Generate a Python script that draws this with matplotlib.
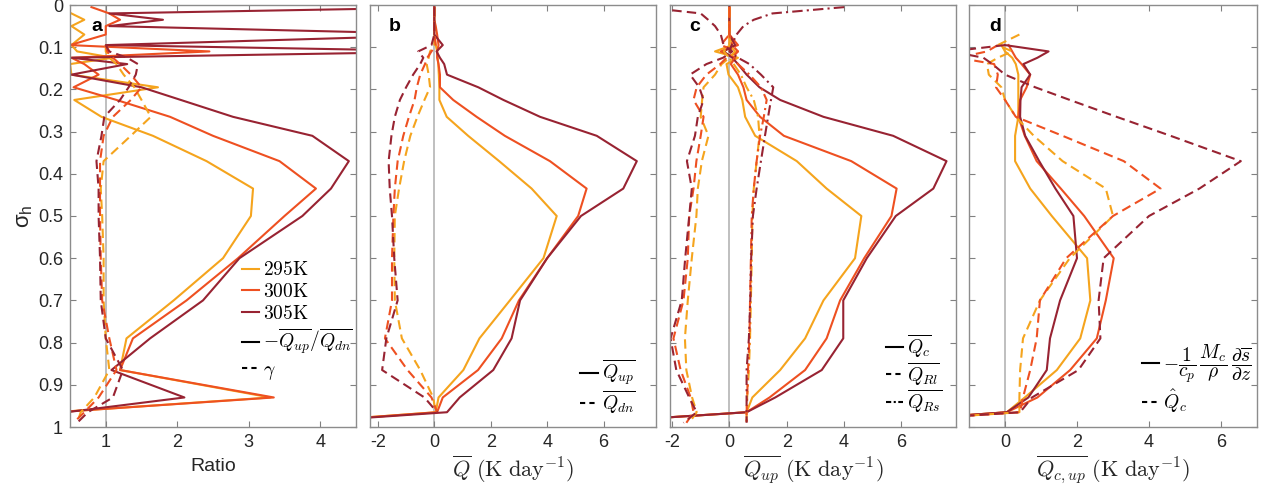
import numpy as np
import matplotlib
matplotlib.use('Agg')
import matplotlib.pyplot as plt
from matplotlib.lines import Line2D

nan = np.nan

plt.rcParams['font.family'] = ['Liberation Sans', 'DejaVu Sans']
plt.rcParams['mathtext.fontset'] = 'cm'
plt.rcParams['axes.unicode_minus'] = False

# vertical levels (sigma_h) shared by all profiles
sigma = [0.005, 0.02, 0.035, 0.05, 0.07, 0.095, 0.11, 0.125, 0.14, 0.165, 0.195, 0.225,
         0.265, 0.31, 0.37, 0.435, 0.5, 0.6, 0.7, 0.79, 0.865, 0.93, 0.965, 0.99]

temps = ['295K', '300K', '305K']

# a: -Qup/Qdn ratio and gamma
ratio_295 = [nan, 0.52, 0.7, 0.52, 0.7, 0.52, 0.6, 1.1, 0.5, 0.52, 1.73, 0.56,
             0.94, 1.66, 2.41, 3.06, 3.03, 2.64, 1.95, 1.29, 1.2, 3.3, 0.3, nan]
ratio_300 = [0.8, 1.05, 1.2, 1.0, 1.0, 0.5, 2.45, 0.52, 0.7, 0.9, 0.55, 1.15,
             1.9, 2.5, 3.43, 3.94, 3.5, 2.85, 2.13, 1.38, 1.2, 3.35, 0.3, nan]
ratio_305 = [6.0, 1.05, 1.8, 1.05, 6.0, 1.0, 6.0, 0.52, 1.3, 0.52, 1.5, 2.05,
             2.78, 3.89, 4.4, 4.15, 3.75, 2.87, 2.36, 1.62, 1.08, 2.1, 0.45, nan]
gamma_295 = [nan, nan, nan, nan, nan, 1.0, 1.0, 1.05, 1.15, 1.25, 1.4, 1.5,
             1.63, 1.35, 0.97, 0.93, 0.95, 0.97, 0.97, 1.0, 1.05, 0.84, 0.65, 0.6]
gamma_300 = [nan, nan, nan, nan, nan, 1.0, 1.02, 1.1, 1.2, 1.35, 1.5, 1.35,
             1.1, 0.97, 0.92, 0.92, 0.92, 0.93, 0.95, 1.05, 1.15, 0.9, 0.7, 0.55]
gamma_305 = [nan, nan, nan, nan, nan, 1.0, 1.05, 1.3, 1.45, 1.42, 1.32, 1.2,
             0.98, 0.94, 0.87, 0.9, 0.9, 0.92, 0.93, 1.0, 1.24, 1.1, 0.75, 0.6]

# b: updraft / downdraft heating (K/day)
qup_295 = [0, 0, 0, 0, 0, 0.05, 0.1, 0.12, 0.14, 0.16, 0.18, 0.18,
           0.44, 1.2, 2.3, 3.45, 4.34, 3.87, 2.68, 1.6, 1.03, 0.15, 0.05, -5]
qup_300 = [0, 0, 0, 0.05, 0.1, 0.15, 0.1, 0.1, 0.15, 0.2, 0.2, 0.67,
           1.5, 2.5, 4.1, 5.4, 5.1, 4.0, 3.0, 2.39, 1.55, 0.3, 0.1, -5]
qup_305 = [0, 0, 0, 0, 0, 0.3, 0.08, 0.2, 0.35, 0.45, 1.56, 2.45,
           3.75, 5.76, 7.18, 6.7, 5.2, 4.0, 3.04, 2.74, 2.09, 0.9, 0.45, -5]
qdn_295 = [0, 0, 0, 0, 0, 0.0, -0.15, -0.2, -0.27, -0.2, -0.15, -0.35,
           -0.6, -0.85, -1.07, -1.25, -1.4, -1.42, -1.4, -1.15, -0.5, -0.04, 0.05, nan]
qdn_300 = [0, 0, 0, 0, 0, 0.05, -0.1, -0.25, -0.33, -0.5, -0.62, -0.7,
           -0.9, -1.1, -1.3, -1.4, -1.45, -1.5, -1.5, -1.75, -0.95, -0.1, 0.1, nan]
qdn_305 = [0, 0, 0, 0, 0, -0.1, -0.57, -0.39, -0.5, -0.75, -1.0, -1.22,
           -1.4, -1.52, -1.62, -1.58, -1.5, -1.42, -1.3, -1.7, -1.85, -0.35, 0.1, nan]

# c: updraft budget terms (K/day)
qc_295 = [0, 0, 0, 0, 0, 0.1, -0.5, 0.3, -0.1, -0.03, 0.3, 0.45,
          0.55, 0.9, 2.35, 3.39, 4.6, 4.38, 3.28, 2.64, 1.77, 0.8, 0.6, -5]
qc_300 = [0, 0, 0, 0, 0, 0.3, -0.3, 0.2, 0.05, 0.3, 0.49, 0.6,
          1.07, 1.9, 4.25, 5.83, 5.65, 4.7, 3.86, 3.39, 2.64, 1.4, 0.6, -5]
qc_305 = [0, 0, 0, 0, 0, 0.2, -0.2, 0.1, 0.3, 0.6, 1.05, 1.77,
          3.28, 5.71, 7.57, 7.11, 5.8, 4.79, 3.97, 3.97, 3.22, 1.6, 0.6, -5]
qrl_295 = [0, 0, 0, 0, 0, 0.0, -0.2, 0.0, -0.27, -0.5, -0.9, -0.95,
           -1.0, -0.73, -0.96, -1.1, -1.15, -1.31, -1.45, -1.55, -1.5, -1.3, -1.14, -1.4]
qrl_300 = [0, 0, 0, 0, 0, -0.3, 0.3, -0.1, -0.32, -0.8, -1.14, -1.25,
           -0.9, -1.0, -1.15, -1.25, -1.4, -1.45, -1.6, -1.95, -1.7, -1.35, -1.25, -1.5]
qrl_305 = [-3.0, -1.0, -0.74, -0.5, -0.3, -0.2, 0.1, -0.22, -0.8, -1.37, -1.05, -0.9,
           -1.1, -1.2, -1.48, -1.31, -1.4, -1.54, -1.66, -2.05, -1.85, -1.4, -1.14, -1.6]
qrs_295 = [0, 0, 0, 0, 0, 0.0, 0.2, 0.0, 0.15, 0.4, 0.6, 0.85,
           1.0, 1.05, 0.95, 0.85, 0.8, 0.78, 0.75, 0.72, 0.68, 0.62, 0.6, 0.6]
qrs_300 = [0, 0, 0, 0, 0, 0.1, 0.3, 0.1, 0.3, 0.7, 1.1, 1.3,
           1.2, 1.07, 0.95, 0.85, 0.78, 0.75, 0.72, 0.7, 0.65, 0.62, 0.6, 0.6]
qrs_305 = [4.0, 1.5, 0.85, 0.49, 0.25, 0.08, 0.0, 0.3, 0.7, 1.1, 1.53, 1.45,
           1.35, 1.24, 1.1, 0.95, 0.82, 0.76, 0.73, 0.68, 0.6, 0.6, 0.6, 0.6]

# d: mass-flux term vs. Q_c hat (K/day)
mflux_295 = [nan, nan, nan, nan, nan, -0.1, 0.0, 0.2, 0.3, 0.37, 0.37, 0.37,
             0.37, 0.28, 0.28, 0.7, 1.3, 2.28, 2.37, 2.09, 1.44, 0.55, 0.05, -4]
mflux_300 = [nan, nan, nan, nan, nan, 0.1, 0.2, 0.3, 0.46, 0.7, 0.6, 0.42,
             0.37, 0.55, 0.88, 1.55, 2.2, 3.02, 2.8, 2.55, 1.81, 0.9, 0.05, -4]
mflux_305 = [nan, nan, nan, nan, nan, 0.0, 1.21, 0.9, 0.51, 0.7, 0.46, 0.43,
             0.42, 0.56, 0.95, 1.4, 1.9, 2.0, 1.53, 1.25, 1.16, 0.65, 0.05, -4]
qhat_295 = [nan, nan, nan, nan, 0.4, -0.2, 0.2, -0.2, -0.5, -0.45, -0.1, 0.0,
            0.3, 0.8, 1.6, 2.8, 3.0, 1.8, 0.97, 0.5, 0.42, 0.4, 0.4, -4]
qhat_300 = [nan, nan, nan, nan, nan, -0.2, -0.5, -1.3, -0.3, -0.2, -0.25, 0.0,
            0.3, 1.6, 3.3, 4.32, 3.0, 1.7, 0.97, 0.88, 0.7, 0.5, 0.42, -4]
qhat_305 = [nan, nan, nan, nan, nan, 0.0, -1.5, -0.6, -0.35, 0.0, 0.84, 1.8,
            3.1, 4.6, 6.55, 5.4, 4.0, 2.74, 2.6, 2.65, 2.04, 0.75, 0.42, -4]

colors = ['#F5A41D', '#EE5021', '#982332']
dash = (0, (4.5, 2.5))
dashdot = (0, (5, 2, 1, 2))
lw = 1.5

fig = plt.figure(figsize=(12.68, 4.88), dpi=100)
W, H = 1268.0, 488.0
boxes = [(70, 286), (370, 286), (670, 286), (969, 288)]
axes = [fig.add_axes([l / W, 61 / H, w / W, 422 / H]) for l, w in boxes]

panels = [
    ([(ratio_295, ratio_300, ratio_305, '-'), (gamma_295, gamma_300, gamma_305, dash)], 1),
    ([(qup_295, qup_300, qup_305, '-'), (qdn_295, qdn_300, qdn_305, dash)], 0),
    ([(qc_295, qc_300, qc_305, '-'), (qrl_295, qrl_300, qrl_305, dash),
      (qrs_295, qrs_300, qrs_305, dashdot)], 0),
    ([(mflux_295, mflux_300, mflux_305, '-'), (qhat_295, qhat_300, qhat_305, dash)], 0),
]
xlims = [(0.5, 4.5), (-2.28, 7.86), (-2.07, 7.9), (-1.0, 7.0)]
xticks = [[1, 2, 3, 4], [-2, 0, 2, 4, 6], [-2, 0, 2, 4, 6], [0, 2, 4, 6]]
xlabels = ['Ratio',
           r'$\overline{Q}\ (\mathrm{K\ day}^{-1})$',
           r'$\overline{Q_{up}}\ (\mathrm{K\ day}^{-1})$',
           r'$\overline{Q_{c,up}}\ (\mathrm{K\ day}^{-1})$']
letters = ['a', 'b', 'c', 'd']
letter_x = [0.094, 0.087, 0.087, 0.09]

for i, ax in enumerate(axes):
    groups, ref = panels[i]
    ax.axvline(ref, color='#b4b4b4', lw=1.2, zorder=1)
    for group in groups:
        style = group[3]
        for vals, c in zip(group[:3], colors):
            ax.plot(vals, sigma, color=c, lw=lw, ls=style, zorder=2)
    ax.set_xlim(*xlims[i])
    ax.set_ylim(1, 0)
    ax.set_xticks(xticks[i])
    ax.set_yticks(np.round(np.arange(0, 1.01, 0.1), 1))
    if i == 0:
        ax.set_yticklabels(['0'] + ['%.1f' % v for v in np.arange(0.1, 0.95, 0.1)] + ['1'])
        ax.set_ylabel(r'$\mathregular{\sigma_h}$', fontsize=16, color='#262626', labelpad=2)
    else:
        ax.set_yticklabels([])
    ax.tick_params(direction='in', top=True, right=True, length=4, width=0.8,
                   colors='#808080', labelcolor='#262626', labelsize=13, pad=5)
    for sp in ax.spines.values():
        sp.set_color('#8c8c8c')
        sp.set_linewidth(1.0)
    if i == 0:
        ax.set_xlabel(xlabels[i], fontsize=14, color='#262626', labelpad=5)
    else:
        ax.set_xlabel(xlabels[i], fontsize=16, color='#262626', labelpad=2)
    ax.text(letter_x[i], 0.948, letters[i], transform=ax.transAxes, fontsize=14,
            fontweight='bold', ha='center', va='center', color='k')

leg_kw = dict(frameon=False, fontsize=14, handlelength=0.9, handletextpad=0.2,
              borderpad=0, borderaxespad=0, loc='center left')

# a: temperatures plus line-style key
h_a = [Line2D([], [], color=c, lw=lw) for c in colors]
h_a += [Line2D([], [], color='k', lw=lw), Line2D([], [], color='k', lw=lw, ls=(0, (2.5, 2)))]
lab_a = [r'$\mathrm{%s}$' % t for t in temps]
lab_a += [r'$-\overline{Q_{up}}/\overline{Q_{dn}}$', r'$\gamma$']
axes[0].legend(h_a, lab_a, bbox_to_anchor=(0.6, 0.25), labelspacing=0.2, **leg_kw)

h_b = [Line2D([], [], color='k', lw=lw), Line2D([], [], color='k', lw=lw, ls=(0, (2.5, 2)))]
axes[1].legend(h_b, [r'$\overline{Q_{up}}$', r'$\overline{Q_{dn}}$'],
               bbox_to_anchor=(0.735, 0.095), labelspacing=0.0, **leg_kw)

h_c = h_b + [Line2D([], [], color='k', lw=lw, ls=(0, (2.5, 1.2, 1, 1.2)))]
axes[2].legend(h_c, [r'$\overline{Q_c}$', r'$\overline{Q_{Rl}}$', r'$\overline{Q_{Rs}}$'],
               bbox_to_anchor=(0.755, 0.126), labelspacing=0.0, **leg_kw)

axes[3].legend(h_b, [r'$-\dfrac{1}{c_p}\,\dfrac{M_c}{\rho}\,\dfrac{\partial \overline{s}}{\partial z}$',
                     r'$\hat{Q}_c$'],
               bbox_to_anchor=(0.6, 0.115), labelspacing=0.1, **leg_kw)

fig.savefig('out.png', dpi=100)
